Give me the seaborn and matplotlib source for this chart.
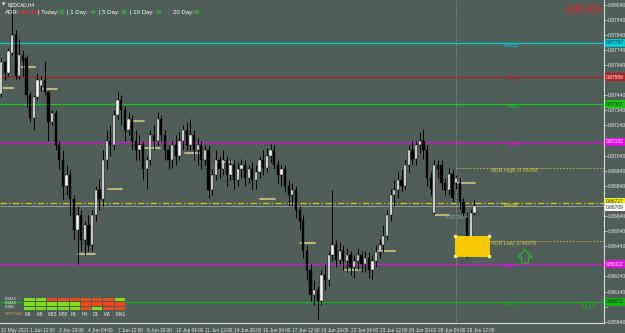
import numpy as np
import pandas as pd
import seaborn as sns
import matplotlib
matplotlib.use("Agg")
import matplotlib.pyplot as plt
import matplotlib.transforms as mtrans
from matplotlib.patches import Rectangle, Polygon

# ---------------- data ----------------
opens = [.8745,.8766,.8759,.8772,.8784,.8757,.8771,.8769,.8744,.8729,.8743,.8750,.8754,.8746,.8726,.8732,
         .8711,.8701,.8684,.8691,.8675,.8655,.8665,.8648,.8658,.8645,.8665,.8681,.8675,.8701,.8714,.8711,
         .8731,.8741,.8734,.8721,.8728,.8714,.8708,.8711,.8695,.8701,.8718,.8714,.8728,.8718,.8708,.8701,
         .8711,.8704,.8714,.8721,.8711,.8718,.8708,.8711,.8701,.8708,.8681,.8691,.8701,.8695,.8701,.8691,
         .8698,.8688,.8695,.8698,.8689,.8695,.8688,.8693,.8701,.8696,.8704,.8708,.8698,.8691,.8695,.8684,
         .8678,.8681,.8668,.8661,.8641,.8628,.8612,.8615,.8608,.8625,.8622,.8638,.8645,.8635,.8641,.8634,
         .8638,.8630,.8634,.8638,.8632,.8636,.8628,.8634,.8640,.8645,.8651,.8665,.8678,.8681,.8688,.8684,
         .8698,.8708,.8702,.8711,.8714,.8708,.8689,.8666,.8698,.8698,.8686,.8681,.8692,.8686,.8686,.8673,
         .8663,.8643,.8666]
closes = [.8766,.8759,.8773,.8784,.8757,.8771,.8767,.8744,.8729,.8743,.8754,.8754,.8746,.8726,.8732,.8711,
          .8701,.8684,.8691,.8675,.8655,.8665,.8648,.8658,.8645,.8665,.8681,.8675,.8701,.8714,.8711,.8731,
          .8741,.8734,.8721,.8728,.8714,.8708,.8711,.8695,.8701,.8718,.8714,.8728,.8718,.8708,.8701,.8711,
          .8704,.8714,.8721,.8711,.8718,.8708,.8711,.8701,.8708,.8681,.8691,.8701,.8695,.8701,.8691,.8698,
          .8688,.8695,.8698,.8689,.8695,.8688,.8693,.8701,.8696,.8704,.8708,.8698,.8691,.8695,.8684,.8678,
          .8681,.8668,.8661,.8641,.8628,.8612,.8615,.8608,.8625,.8622,.8638,.8645,.8635,.8641,.8634,.8638,
          .8630,.8634,.8638,.8632,.8636,.8628,.8634,.8640,.8645,.8651,.8665,.8678,.8681,.8688,.8684,.8698,
          .8708,.8702,.8711,.8714,.8708,.8689,.8682,.8698,.8695,.8686,.8681,.8692,.8676,.8689,.8673,.8666,
          .8637,.8666,.86709]
highs = [.8769,.8767,.8775,.8802,.8787,.8781,.8774,.8771,.8746,.8744,.8759,.8757,.8767,.8747,.8734,.8734,
         .8714,.8708,.8698,.8695,.8678,.8671,.8668,.8661,.8665,.8668,.8684,.8688,.8708,.8721,.8724,.8734,
         .8746,.8744,.8737,.8733,.8731,.8721,.8718,.8714,.8704,.8721,.8724,.8733,.8731,.8721,.8711,.8714,
         .8718,.8720,.8724,.8726,.8728,.8721,.8716,.8714,.8711,.8711,.8695,.8708,.8704,.8708,.8704,.8702,
         .8701,.8700,.8702,.8701,.8698,.8700,.8698,.8704,.8708,.8709,.8712,.8711,.8701,.8698,.8698,.8688,
         .8686,.8684,.8671,.8665,.8645,.8632,.8622,.8618,.8628,.8632,.8641,.8681,.8648,.8647,.8645,.8643,
         .8641,.8638,.8643,.8641,.8641,.8640,.8638,.8645,.8649,.8658,.8668,.8682,.8688,.8693,.8695,.8701,
         .8711,.8714,.8714,.8720,.8722,.8711,.8693,.8701,.8701,.8701,.8689,.8696,.8695,.8691,.8689,.8676,
         .8667,.8669,.8675]
lows = [.8743,.8754,.8757,.8771,.8755,.8755,.8757,.8736,.8726,.8721,.8741,.8747,.8744,.8714,.8724,.8708,
        .8695,.8675,.8678,.8665,.8648,.8632,.8641,.8638,.8641,.8641,.8661,.8668,.8671,.8695,.8704,.8708,
        .8728,.8724,.8714,.8718,.8708,.8701,.8701,.8688,.8682,.8698,.8708,.8711,.8714,.8701,.8695,.8696,
        .8698,.8701,.8708,.8708,.8708,.8701,.8698,.8695,.8698,.8676,.8678,.8688,.8689,.8691,.8684,.8688,
        .8682,.8684,.8689,.8684,.8686,.8681,.8682,.8689,.8691,.8693,.8700,.8695,.8686,.8684,.8680,.8671,
        .8671,.8663,.8655,.8636,.8622,.8608,.8605,.8596,.8605,.8615,.8618,.8634,.8630,.8632,.8628,.8627,
        .8625,.8623,.8628,.8627,.8627,.8623,.8622,.8630,.8636,.8640,.8648,.8661,.8671,.8676,.8680,.8681,
        .8693,.8698,.8698,.8706,.8702,.8684,.8678,.8665,.8689,.8681,.8678,.8678,.8673,.8682,.8669,.8663,
        .8636,.8641,.8665]

time_labels = ["31 May 2021", "1 Jun 12:00", "2 Jun 20:00", "4 Jun 04:00", "7 Jun 12:00", "8 Jun 20:00",
               "10 Jun 04:00", "11 Jun 12:00", "14 Jun 20:00", "16 Jun 04:00", "17 Jun 12:00",
               "18 Jun 20:00", "22 Jun 04:00", "23 Jun 12:00", "24 Jun 20:00", "28 Jun 04:00", "29 Jun 12:00"]
time_label_bars = [0, 8, 16, 24, 32, 40, 48, 56, 64, 72, 80, 88, 96, 104, 112, 120, 128]

price_ticks = [0.85940, 0.86040, 0.86140, 0.86240, 0.86340, 0.86440, 0.86540, 0.86640, 0.86740, 0.86840,
               0.86940, 0.87040, 0.87140, 0.87240, 0.87340, 0.87440, 0.87540, 0.87640, 0.87740, 0.87840,
               0.87940, 0.88040]

level_names = ["R100", "R78", "R61", "R38", "S38", "S61"]
level_prices = [0.87787, 0.87559, 0.87382, 0.87132, 0.86322, 0.86072]
level_colors = ["#00cfd8", "#b02020", "#14c814", "#e010e0", "#e010e0", "#14b414"]
pivot_price = 0.86727
bid_price = 0.86709
adr_high = 0.86958
adr_low = 0.86476

# short daily marker segments (start bar, end bar, price)
seg_start = [0.5, 5.5, 11.2, 21.0, 29.4, 35.4, 39.5, 50.5, 59.6, 71.0, 82.0, 94.5, 103.5, 119.2, 125.2]
seg_end   = [3.3, 9.3, 15.4, 25.8, 33.2, 39.3, 43.7, 54.6, 63.4, 75.3, 86.2, 98.6, 108.2, 123.0, 130.2]
seg_price = [.8749, .8763, .8748, .8639, .8682, .8727, .8709, .8706, .8700, .8675, .8646, .8628, .8641,
             .8665, .8686]

sig_rows = ["EMA50", "EMA20", "EMA5"]
sig_cols = ["M1", "M5", "M15", "M30", "H1", "H4", "D1", "W1", "MN1"]
sig_vals = [[1, 1, 0, 0, 0, 0, 0, 0, 1],
            [1, 1, 1, 1, 1, 0, 0, 0, 0],
            [1, 1, 1, 1, 1, 0, 1, 0, 0]]

# ---------------- style ----------------
BG = "#4f5e59"
sns.set_theme(style="dark", rc={"axes.facecolor": BG, "figure.facecolor": BG})
plt.rcParams["font.family"] = ["Liberation Sans", "DejaVu Sans"]

W, H = 625, 333
fig = plt.figure(figsize=(W / 100, H / 100), dpi=100)
ax = fig.add_axes([0, 10 / H, 604 / W, 323 / H])
ax.set_facecolor(BG)

def fx(px):
    return px / W

def fy(py):
    return 1 - py / H

bars = pd.DataFrame({"open": opens, "high": highs, "low": lows, "close": closes})
bars["idx"] = np.arange(len(bars))
bars["bull"] = bars["close"] >= bars["open"]

# level lines
for p, c in zip(level_prices, level_colors):
    ax.axhline(p, color=c, lw=0.9, zorder=1)
ax.axhline(pivot_price, color="#d6d000", lw=0.9, ls=(0, (5, 2, 1, 2)), zorder=1)
ax.axhline(bid_price, color="#8c9a98", lw=0.7, zorder=1)

# today's separator and ADR lines
ax.axvline(125, color="#a8b0ae", lw=0.6, ls=(0, (1, 2)), zorder=1)
ax.plot([125, 170], [adr_high, adr_high], color="#b8a838", lw=0.8, ls=(0, (1.5, 1.5)), zorder=1)
ax.plot([125, 170], [adr_low, adr_low], color="#b8a838", lw=0.8, ls=(0, (1.5, 1.5)), zorder=1)

# daily marker segments
for s, e, p in zip(seg_start, seg_end, seg_price):
    ax.plot([s, e], [p, p], color="#d8c880", lw=1.2, zorder=2)

# candles
ax.vlines(bars["idx"], bars["low"], bars["high"], color="black", lw=0.7, zorder=3)
body_bottom = np.minimum(bars["open"], bars["close"])
body_h = np.maximum(np.abs(bars["close"] - bars["open"]), 0.00003)
ax.bar(bars["idx"], body_h, bottom=body_bottom, width=0.62,
       color=np.where(bars["bull"], "white", "black"), edgecolor="black", linewidth=0.3, zorder=4)

# ADR box
ax.add_patch(Rectangle((124.7, 0.86375), 9.3, 0.00135, facecolor="#f6c800", edgecolor="#f6d800",
                       lw=0.6, zorder=5))
for cx, cy in [(124.7, 0.86375), (134.0, 0.86375), (124.7, 0.8651), (134.0, 0.8651)]:
    ax.plot(cx, cy, marker="s", ms=1.8, color="#fff080", zorder=6)

ax.set_xlim(-0.30, 165.6)
ax.set_ylim(0.85932, 0.88071)

# axes / ticks
for s in ["top", "left"]:
    ax.spines[s].set_visible(False)
for s in ["right", "bottom"]:
    ax.spines[s].set_color("#d8d8d8")
    ax.spines[s].set_linewidth(0.8)

box_items = list(zip(level_prices, level_colors)) + [(pivot_price, "#f0f000"), (bid_price, "#ffffff")]
box_prices = [p for p, _ in box_items]

ax.yaxis.tick_right()
ax.set_yticks(price_ticks)
ax.set_yticklabels(["" if min(abs(p - b) for b in box_prices) < 0.00035 else f"{p:.5f}"
                    for p in price_ticks])
ax.tick_params(axis="y", colors="#e8e8e8", labelsize=3.6, length=2, width=0.5, pad=1, direction="out")
ax.set_xticks(time_label_bars)
ax.set_xticklabels(time_labels)
ax.tick_params(axis="x", colors="#e8e8e8", labelsize=3.4, length=3, width=0.5, pad=0.5, direction="out")
for lbl in ax.get_xticklabels():
    lbl.set_ha("left")
ax.grid(False)

# right side coloured price boxes
trans = mtrans.blended_transform_factory(ax.transAxes, ax.transData)
box_offsets = [0, 0, 0, 0, 0, 0, 0.8, -1.2]
for (p, c), off in zip(box_items, box_offsets):
    tc = "white" if c in ("#b02020", "#e010e0") else "#222222"
    ax.annotate(f"{p:.5f}", xy=(1.0, p), xycoords=trans, xytext=(1.5, off), textcoords="offset points",
                fontsize=3.5, color=tc, va="center", ha="left",
                bbox=dict(boxstyle="square,pad=0.3", fc=c, ec="none"), zorder=7, annotation_clip=False)

# level names
name_px = [503, 508, 508, 508, 504, 505]
for n, p, c, xp in zip(level_names, level_prices, level_colors, name_px):
    ax.text(xp / 604, p, n, transform=trans, fontsize=4.6, color=c, va="top", ha="left")
ax.text(503 / 604, pivot_price, "Pivot", transform=trans, fontsize=4.6, color="#e0e000", va="top")
ax.text(491 / 604, adr_high, "ADR High: 0.86958", transform=trans, fontsize=3.9, color="#d8c840", va="top")
ax.text(491 / 604, adr_low, "ADR Low: 0.86476", transform=trans, fontsize=3.9, color="#d8c840", va="top")
ax.text(445 / 604, 0.86633, "ADR Start", transform=trans, fontsize=3.6, color="#80a8b0", va="center")

# header texts
fig.text(fx(2), fy(4.5), "\u25bc", fontsize=3.0, color="white", va="center", family="DejaVu Sans")
fig.text(fx(7.5), fy(4.5), "NZDCAD,H4", fontsize=3.4, color="white", va="center")
header = [(5, "ADR:", "white"), (20, "103.1%", "#ff2a2a"), (38.5, "| Today:", "white"),
          (59, "59", "#30d030"), (67, "| 1 Day:", "white"), (89.5, "44", "#30d030"),
          (99, "| 5 Day:", "white"), (121, "48", "#30d030"), (130.5, "| 10 Day:", "white"),
          (156, "56", "#30d030"), (173, "20 Day:", "white"), (194, "58", "#30d030")]
for xp, t, c in header:
    fig.text(fx(xp), fy(12.5), t, fontsize=4.3, color=c, va="center")
fig.text(fx(566), fy(10), "0.86709", fontsize=7.2, color="#ff2020", va="center")
fig.text(fx(582), fy(306), "0.0", fontsize=7.2, color="#20b020", va="center")

# green arrow
arrow = [(525, 250), (532, 257), (528.5, 257), (528.5, 263), (521.5, 263), (521.5, 257), (518, 257)]
fig.patches.append(Polygon([(fx(a), fy(b)) for a, b in arrow], closed=True, transform=fig.transFigure,
                           fill=False, edgecolor="#20c020", lw=0.8))

# signal table (seaborn heatmap)
hax = fig.add_axes([fx(23.3), fy(310), fx(125) - fx(23.3), fy(297) - fy(310)])
sig_df = pd.DataFrame(sig_vals, index=sig_rows, columns=sig_cols)
sns.heatmap(sig_df, ax=hax, cmap=matplotlib.colors.ListedColormap(["#f04818", "#80e018"]), vmin=0, vmax=1,
            cbar=False, linewidths=0.5, linecolor="#4a5a54", xticklabels=False, yticklabels=False)
hax.set_xlabel("")
hax.set_ylabel("")
for i, r in enumerate(sig_rows):
    fig.text(fx(5), fy(298.5 + i * 4.5), r, fontsize=2.6, color="#dddddd", va="center")
fig.text(fx(5), fy(314), "NZDCAD", fontsize=3.1, color="#f09020", va="center")
col_x = [23.3, 34.7, 46, 57.3, 68.7, 80, 91.3, 102.7, 114]
for xp, cname in zip(col_x, sig_cols):
    fig.text(fx(xp + 1.5), fy(314), cname, fontsize=3.4, color="#e8e8e8", va="center", ha="left")

fig.savefig("out.png", dpi=100, facecolor=BG)
